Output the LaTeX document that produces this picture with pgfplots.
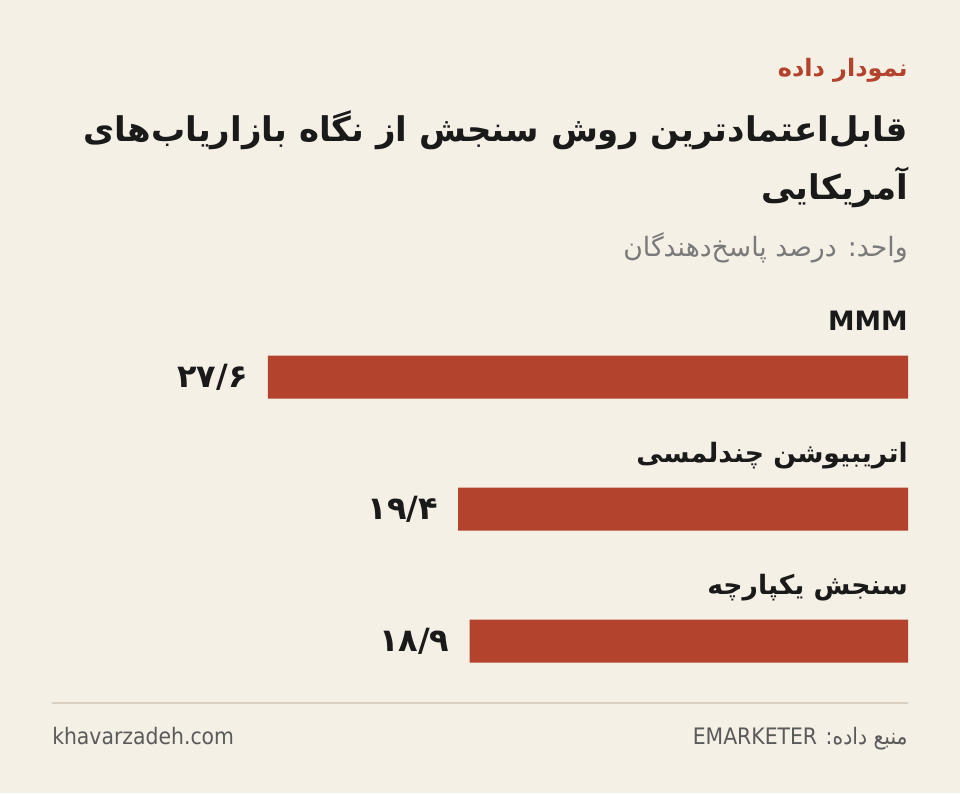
\documentclass[border=0pt]{standalone}
\usepackage{fontspec}
\usepackage{pgfplots}
\pgfplotsset{compat=1.18}
\TeXXeTstate=1
\setmainfont{DejaVu Sans}
\newfontfamily\fa[Script=Arabic]{DejaVu Sans}
\newfontfamily\facond[Script=Arabic]{DejaVu Sans Condensed}
\newfontfamily\latcond{DejaVu Sans Condensed}
\newfontfamily\numfont{DejaVu Sans}
\definecolor{bg}{HTML}{F5F0E6}
\definecolor{barc}{HTML}{B4432D}
\definecolor{titlec}{HTML}{1A1A1A}
\definecolor{subc}{HTML}{7A7A7A}
\definecolor{footc}{HTML}{5A5A5A}
\definecolor{rulec}{HTML}{D8D0C0}
\newcommand\va{\beginL ۲۷/۶\endL}
\newcommand\vb{\beginL ۱۹/۴\endL}
\newcommand\vc{\beginL ۱۸/۹\endL}
\begin{document}
\begin{tikzpicture}
\begin{scope}[x=0.75pt,y=-0.75pt]
\fill[bg] (0,0) rectangle (960,793);
\node[anchor=base east, inner sep=0pt, text=barc] at (908,76) {\fa\bfseries\fontsize{18}{22}\selectfont\beginR نمودار داده\endR};
\node[anchor=base east, inner sep=0pt, text=titlec] at (908,141) {\fa\bfseries\fontsize{25.5}{30}\selectfont\beginR قابل‌اعتمادترین روش سنجش از نگاه بازاریاب‌های\endR};
\node[anchor=base east, inner sep=0pt, text=titlec] at (908,199) {\fa\bfseries\fontsize{25.5}{30}\selectfont\beginR آمریکایی\endR};
\node[anchor=base east, inner sep=0pt, text=subc] at (908,256) {\fa\fontsize{20}{24}\selectfont\beginR واحد: درصد پاسخ‌دهندگان\endR};
\draw[rulec, line width=1.5pt] (52,703) -- (908,703);
\node[anchor=base west, inner sep=0pt, text=footc] at (52,744) {\latcond\fontsize{17}{20}\selectfont khavarzadeh.com};
\node[anchor=base east, inner sep=0pt, text=footc] at (908,744) {\facond\fontsize{17}{20}\selectfont\beginR منبع داده: \beginL EMARKETER\endL\endR};
\end{scope}
\begin{axis}[
  at={(39pt,-183.75pt)}, anchor=north west,
  scale only axis, width=642pt, height=396pt,
  xmin=0, xmax=36.915, ymin=-1, ymax=3,
  x dir=reverse, y dir=reverse,
  axis lines=none, clip=false,
  xbar, bar width=32.25pt,
  point meta=explicit symbolic,
  nodes near coords,
  nodes near coords style={anchor=east, xshift=-15pt, inner sep=0pt, text=titlec, font=\numfont\bfseries\fontsize{24}{28}\selectfont},
]
\addplot[fill=barc, draw=none] table[x=x, y=y, meta=label] {
x y label
27.6 0 \va
19.4 1 \vb
18.9 2 \vc
};
\node[anchor=base east, inner sep=0pt, text=titlec] at (axis cs:0,-0.356) {\fa\bfseries\fontsize{20}{24}\selectfont MMM};
\node[anchor=base east, inner sep=0pt, text=titlec] at (axis cs:0,0.644) {\fa\bfseries\fontsize{20}{24}\selectfont\beginR اتریبیوشن چندلمسی\endR};
\node[anchor=base east, inner sep=0pt, text=titlec] at (axis cs:0,1.644) {\fa\bfseries\fontsize{20}{24}\selectfont\beginR سنجش یکپارچه\endR};
\end{axis}
\end{tikzpicture}
\end{document}
